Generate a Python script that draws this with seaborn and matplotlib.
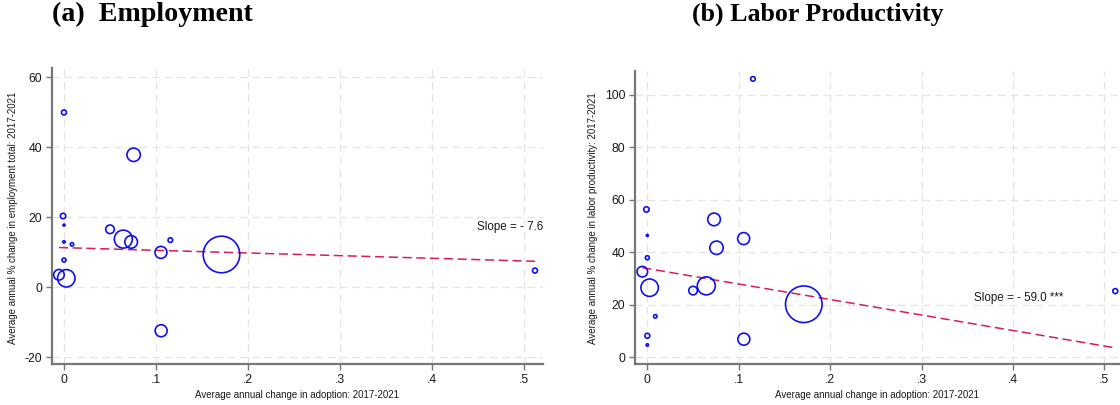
import matplotlib
matplotlib.use("Agg")
import matplotlib.pyplot as plt
import seaborn as sns
import pandas as pd
import numpy as np

# ---- data ----
adoption_change = [0.000, 0.0757, -0.001, 0.000, 0.050, 0.0645, 0.073, 0.000, 0.0087,
                   0.1156, 0.1054, 0.1712, 0.000, -0.0055, 0.0025, 0.1056, 0.512]
employment_change = [49.9, 37.8, 20.3, 17.7, 16.5, 13.7, 12.9, 12.9, 12.2,
                     13.4, 9.9, 9.3, 7.7, 3.5, 2.5, -12.5, 4.7]
productivity_change = [8.2, 41.7, 56.3, 46.4, 25.4, 27.2, 52.5, 4.7, 15.6,
                       106.0, 45.2, 20.2, 37.9, 32.6, 26.5, 6.9, 25.2]
weights = [6.2, 45, 7.3, 1.0, 18.5, 81, 40, 1.4, 2.9,
           5.3, 36, 335, 4.0, 28, 76, 36, 6.2]

fit_intercepts = [11.25, 33.8]
fit_slopes = [-7.6, -59.0]
slope_labels = ["Slope = - 7.6", "Slope = - 59.0 ***"]
titles = ["(a)  Employment", "(b) Labor Productivity"]
y_labels = ["Average annual % change in employment total: 2017-2021",
            "Average annual % change in labor productivity: 2017-2021"]
x_label = "Average annual change in adoption: 2017-2021"
x_ticks = [0, 0.1, 0.2, 0.3, 0.4, 0.5]
x_ticklabels = ["0", ".1", ".2", ".3", ".4", ".5"]
y_ticks_list = [[-20, 0, 20, 40, 60], [0, 20, 40, 60, 80, 100]]

df = pd.DataFrame({"x": adoption_change, "emp": employment_change,
                   "lp": productivity_change, "w": weights})

sns.set_style("white")
plt.rcParams["font.family"] = ["Liberation Sans", "DejaVu Sans"]

W, H = 1120, 405
fig = plt.figure(figsize=(W / 100, H / 100), dpi=100)

ax_pos = [
    [52 / W, 1 - 364 / H, (543 - 52) / W, (364 - 68) / H],
    [635 / W, 1 - 364 / H, (1120 - 635) / W, (364 - 71) / H],
]
xlims = [(-0.01304, 0.5207), (-0.0135, 0.5172)]
ylims = [(-22.0, 62.6), (-2.55, 109.0)]
ycols = ["emp", "lp"]
slope_pos = [(0.5207, 17.2, "right"), (0.357, 22.7, "left")]
title_x = [52 / W, 692 / W]
title_size = [20.2, 18.7]
ylabel_x = [13 / W, 593 / W]
xlabel_x = [297 / W, 877 / W]

blue = "#1010f0"
line_col = "#d81b5a"
spine_col = "#777777"
grid_col = "#e4e4e4"
text_col = "#1a1a1a"

for i in range(2):
    ax = fig.add_axes(ax_pos[i])
    ax.set_xlim(*xlims[i])
    ax.set_ylim(*ylims[i])
    ax.set_xticks(x_ticks)
    ax.set_xticklabels(x_ticklabels)
    ax.set_yticks(y_ticks_list[i])
    ax.set_yticklabels([str(t) for t in y_ticks_list[i]])
    ax.grid(True, linestyle=(0, (6, 4)), color=grid_col, linewidth=0.9)
    ax.set_axisbelow(True)

    # regression line
    xs = np.array([df["x"].min(), df["x"].max()])
    ys = fit_intercepts[i] + fit_slopes[i] * xs
    ax.plot(xs, ys, linestyle=(0, (6, 3)), color=line_col, linewidth=1.1, zorder=2)

    sns.scatterplot(data=df, x="x", y=ycols[i], size="w", sizes=(0, 694),
                    size_norm=(0, 335), facecolors="none", edgecolor=blue,
                    linewidth=1.2, legend=False, ax=ax, zorder=3)

    sx, sy, ha = slope_pos[i]
    ax.text(sx, sy, slope_labels[i], ha=ha, va="center", fontsize=8.4, color=text_col)

    ax.set_xlabel("")
    ax.set_ylabel("")
    for s in ["top", "right"]:
        ax.spines[s].set_visible(False)
    for s in ["left", "bottom"]:
        ax.spines[s].set_color(spine_col)
        ax.spines[s].set_linewidth(1.6)
    ax.tick_params(axis="both", direction="out", length=4, width=1.0, color=spine_col,
                   labelsize=8.8, labelcolor=text_col, left=True, bottom=True, pad=3)

    fig.text(title_x[i], 1 - 21 / H, titles[i], ha="left", va="baseline",
             fontsize=title_size[i], fontweight="bold", color="black",
             family=["Liberation Serif", "DejaVu Serif"])
    fig.text(ylabel_x[i], 1 - 218 / H, y_labels[i], rotation=90, ha="center",
             va="center", fontsize=7, color=text_col)
    fig.text(xlabel_x[i], 1 - 395 / H, x_label, ha="center", va="center",
             fontsize=7, color=text_col)

fig.savefig("out.png", dpi=100)
